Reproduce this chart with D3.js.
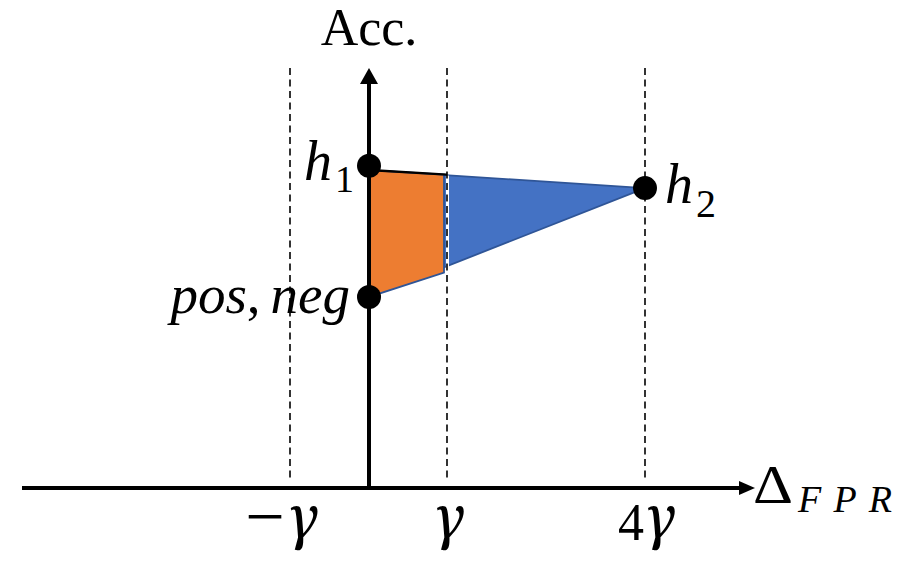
<!DOCTYPE html>
<html>
<head>
<meta charset="utf-8">
<script src="https://cdn.jsdelivr.net/npm/d3@7"></script>
<style>
  html, body { margin: 0; padding: 0; background: #fff; }
  svg { display: block; }
  text { font-family: "Liberation Serif", "DejaVu Serif", serif; fill: #000; }
  text.greek { font-family: "Noto Serif", "Liberation Serif", serif; }
</style>
</head>
<body>
<svg id="chart" width="897" height="561"></svg>
<script>
// ---- data ----
const tickLabels = ["\u2212\u03b3", "\u03b3", "4\u03b3"];
const tickValues = [-1, 1, 4];              // in units of gamma
const pointNames = ["h1", "h2", "pos,neg"];
const pointX = [0, 4, 0];                    // ΔFPR (gamma units)
const pointAcc = [0.767, 0.714, 0.455];      // accuracy (relative)
const regionX = [0, 4, 0];                   // triangle of reachable models
const regionAcc = [0.757, 0.714, 0.455];
const orangeUpTo = 1;                        // orange part: 0 ≤ ΔFPR ≤ γ

// ---- layout ----
const svg = d3.select("#chart");
const x = d3.scaleLinear().domain([-1, 0, 1, 4]).range([290, 369, 447, 645]);
const y = d3.scaleLinear().domain([0, 1]).range([488, 68]);
const xAxisFrom = 22, xAxisTo = 755;
const dashTop = y(1), dashBottom = 480;

// math-like text made of parts laid out left to right
function mathText(px, py, parts, anchor) {
  const g = svg.append("g");
  let cx = 0;
  parts.forEach(p => {
    const t = g.append("text")
      .attr("class", p.cls || null)
      .attr("font-size", p.size)
      .attr("font-style", p.italic ? "italic" : "normal")
      .attr("transform", `translate(${cx},${p.dy || 0})`)
      .text(p.t);
    if (p.len) t.attr("textLength", p.len).attr("lengthAdjust", p.adjust || "spacing");
    cx += (p.len || t.node().getComputedTextLength()) + (p.gap || 0);
  });
  const off = anchor === "end" ? -cx : anchor === "middle" ? -cx / 2 : 0;
  g.attr("transform", `translate(${px + off},${py})`);
  return g;
}

function edgeAt(v, a, b) {
  const t = (v - regionX[a]) / (regionX[b] - regionX[a]);
  return regionAcc[a] + t * (regionAcc[b] - regionAcc[a]);
}
const topAtG = edgeAt(orangeUpTo, 0, 1);
const botAtG = edgeAt(orangeUpTo, 2, 1);

// blue triangle
const tri = regionX.map((v, i) => [x(v), y(regionAcc[i])]);
svg.append("polygon")
  .attr("points", tri.map(p => p.join(",")).join(" "))
  .attr("fill", "#4472C4").attr("stroke", "#2F5597").attr("stroke-width", 1.8)
  .attr("stroke-linejoin", "round");

// orange part
const quad = [[0, regionAcc[0]], [orangeUpTo, topAtG], [orangeUpTo, botAtG], [0, regionAcc[2]]]
  .map(d => [x(d[0]), y(d[1])]);
quad[1][0] -= 3; quad[2][0] -= 3;
quad[2][1] += 3;
svg.append("polygon")
  .attr("points", quad.map(p => p.join(",")).join(" "))
  .attr("fill", "#ED7D31").attr("stroke", "#2F5597").attr("stroke-width", 1.8);

// white gap between parts
svg.append("line")
  .attr("x1", x(orangeUpTo) + 0.5).attr("x2", x(orangeUpTo) + 0.5)
  .attr("y1", y(topAtG) + 1).attr("y2", y(botAtG) + 4)
  .attr("stroke", "#fff").attr("stroke-width", 3);

// dashed guide lines
svg.selectAll("line.guide").data(tickValues).enter().append("line")
  .attr("class", "guide")
  .attr("x1", d => x(d)).attr("x2", d => x(d))
  .attr("y1", dashTop).attr("y2", dashBottom)
  .attr("stroke", "#000").attr("stroke-width", 1.6)
  .attr("stroke-dasharray", "7,4.5");

// black top edge from h1 to gamma
svg.append("line")
  .attr("x1", x(0)).attr("y1", y(regionAcc[0]))
  .attr("x2", x(orangeUpTo)).attr("y2", y(topAtG))
  .attr("stroke", "#000").attr("stroke-width", 2.4);

// axes
svg.append("line")
  .attr("x1", xAxisFrom).attr("x2", xAxisTo - 12)
  .attr("y1", y(0)).attr("y2", y(0))
  .attr("stroke", "#000").attr("stroke-width", 4);
svg.append("polygon")
  .attr("points", [[xAxisTo - 16, y(0) - 7], [xAxisTo, y(0)], [xAxisTo - 16, y(0) + 7]].map(p => p.join(",")).join(" "))
  .attr("fill", "#000");
svg.append("line")
  .attr("x1", x(0)).attr("x2", x(0))
  .attr("y1", y(0) + 2).attr("y2", y(1) + 12)
  .attr("stroke", "#000").attr("stroke-width", 4);
svg.append("polygon")
  .attr("points", [[x(0) - 9, y(1) + 16], [x(0), y(1)], [x(0) + 9, y(1) + 16]].map(p => p.join(",")).join(" "))
  .attr("fill", "#000");

// points
svg.selectAll("circle.pt").data(pointNames).enter().append("circle")
  .attr("class", "pt")
  .attr("cx", (d, i) => x(pointX[i])).attr("cy", (d, i) => y(pointAcc[i]))
  .attr("r", 12).attr("fill", "#000");

// point labels
mathText(x(pointX[0]) - 15, y(pointAcc[0]) + 14,
  [{t: "h", italic: true, size: 56, gap: 3}, {t: "1", size: 38, dy: 12}], "end");
mathText(x(pointX[1]) + 20, y(pointAcc[1]) + 15,
  [{t: "h", italic: true, size: 56, gap: 3}, {t: "2", size: 40, dy: 14}], "start");
mathText(x(pointX[2]) - 19, y(pointAcc[2]) + 16,
  [{t: "pos", italic: true, size: 55, gap: 0}, {t: ",", size: 55, gap: 10}, {t: "neg", italic: true, size: 55}], "end");

// tick labels
const tickOffset = [-8, 2, 2];
tickLabels.forEach((lab, i) => {
  const m = lab.match(/^(.*?)(\u03b3)$/);
  const parts = [];
  if (m[1] === "\u2212") parts.push({t: m[1], size: 70, gap: 2});
  else if (m[1]) parts.push({t: m[1], size: 52, gap: 0});
  parts.push({t: m[2], cls: "greek", italic: true, size: 58, dy: -3});
  mathText(x(tickValues[i]) + tickOffset[i], 540, parts, "middle");
});

// axis titles
svg.append("text")
  .attr("x", x(0)).attr("y", 45)
  .attr("text-anchor", "middle").attr("font-size", 52)
  .text("Acc.");
mathText(753, 503, [{t: "\u0394", size: 55, gap: 5, len: 40, adjust: "spacingAndGlyphs"},
                    {t: "FPR", italic: true, size: 38, dy: 9, len: 94}], "start");
</script>
</body>
</html>
